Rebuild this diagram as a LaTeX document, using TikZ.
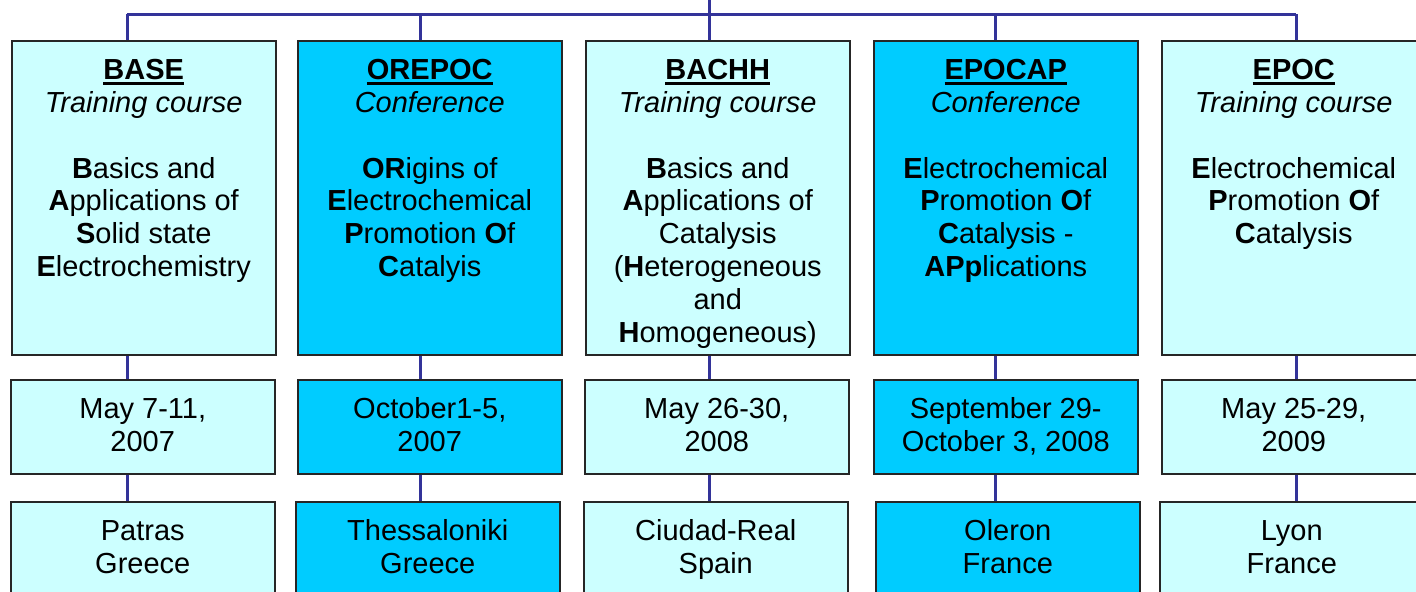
\documentclass[tikz,border=0pt]{standalone}
\usepackage{fontspec}
\setmainfont{Liberation Sans}
\usepackage{xcolor}
\usetikzlibrary{positioning}

\definecolor{paleblue}{HTML}{CCFFFF}
\definecolor{skyblue}{HTML}{00CCFF}
\definecolor{linkblue}{HTML}{333399}

% bold acronym with a heavy underline
\newcommand{\acro}[1]{\setbox0\hbox{\bfseries #1}\rlap{\rule[-2.8pt]{\wd0}{1.7pt}}\box0}
% box contents, set from the top of the box
\newcommand{\boxtext}[2]{\parbox[t][#1][t]{132pt}{\centering\rule{0pt}{19.5pt}#2}}

\begin{document}
\begin{tikzpicture}[
        x=0.5pt, y=-0.5pt,
        event/.style={draw=black!85, line width=0.75pt, inner sep=0pt, anchor=north west,
                      font=\fontsize{14.5}{16.4}\selectfont},
        pale/.style={event, fill=paleblue},
        bright/.style={event, fill=skyblue},
        link/.style={draw=linkblue, line width=1.5pt}
    ]
    \useasboundingbox (0,0) rectangle (1416,591);
    \clip (0,0) rectangle (1416,591);

    % Events
    \node[pale] (base) at (11,40) {\boxtext{157pt}{\acro{BASE}\\ \textit{Training course}\\[16.4pt]
        \textbf{B}asics and\\ \textbf{A}pplications of\\ \textbf{S}olid state\\ \textbf{E}lectrochemistry}};
    \node[bright] (orepoc) at (297,40) {\boxtext{157pt}{\acro{OREPOC}\\ \textit{Conference}\\[16.4pt]
        \textbf{OR}igins of\\ \textbf{E}lectrochemical\\ \textbf{P}romotion \textbf{O}f\\ \textbf{C}atalyis}};
    \node[pale] (bachh) at (585,40) {\boxtext{157pt}{\acro{BACHH}\\ \textit{Training course}\\[16.4pt]
        \textbf{B}asics and\\ \textbf{A}pplications of\\ Catalysis\\ (\textbf{H}eterogeneous\\ and\\ \textbf{H}omogeneous)}};
    \node[bright] (epocap) at (873,40) {\boxtext{157pt}{\acro{EPOCAP}\\ \textit{Conference}\\[16.4pt]
        \textbf{E}lectrochemical\\ \textbf{P}romotion \textbf{O}f\\ \textbf{C}atalysis -\\ \textbf{APp}lications}};
    \node[pale] (epoc) at (1161,40) {\boxtext{157pt}{\acro{EPOC}\\ \textit{Training course}\\[16.4pt]
        \textbf{E}lectrochemical\\ \textbf{P}romotion \textbf{O}f\\ \textbf{C}atalysis}};

    % Dates
    \node[pale] (base-date) at (10,379) {\boxtext{47pt}{May 7-11,\\ 2007}};
    \node[bright] (orepoc-date) at (297,379) {\boxtext{47pt}{October1-5,\\ 2007}};
    \node[pale] (bachh-date) at (584,379) {\boxtext{47pt}{May 26-30,\\ 2008}};
    \node[bright] (epocap-date) at (873,379) {\boxtext{47pt}{September 29-\\ October 3, 2008}};
    \node[pale] (epoc-date) at (1161,379) {\boxtext{47pt}{May 25-29,\\ 2009}};

    % Places
    \node[pale] (base-place) at (10,501) {\boxtext{56pt}{Patras\\ Greece}};
    \node[bright] (orepoc-place) at (295,501) {\boxtext{56pt}{Thessaloniki\\ Greece}};
    \node[pale] (bachh-place) at (583,501) {\boxtext{56pt}{Ciudad-Real\\ Spain}};
    \node[bright] (epocap-place) at (875,501) {\boxtext{56pt}{Oleron\\ France}};
    \node[pale] (epoc-place) at (1159,501) {\boxtext{56pt}{Lyon\\ France}};

    % Branch points
    \coordinate (root) at (709,-10);
    \coordinate (c1) at (127,14);
    \coordinate (c2) at (420,14);
    \coordinate (c3) at (709,14);
    \coordinate (c4) at (995,14);
    \coordinate (c5) at (1296,14);

    % Connections
    \draw[link] (root) -- (c3);
    \draw[link] (c1) -- (c5);
    \foreach \n/\c in {base/c1, orepoc/c2, bachh/c3, epocap/c4, epoc/c5} {
        \draw[link] (\c) -- (\n.north -| \c);
        \draw[link] (\n.south -| \c) -- (\n-date.north -| \c);
        \draw[link] (\n-date.south -| \c) -- (\n-place.north -| \c);
    }

\end{tikzpicture}
\end{document}
